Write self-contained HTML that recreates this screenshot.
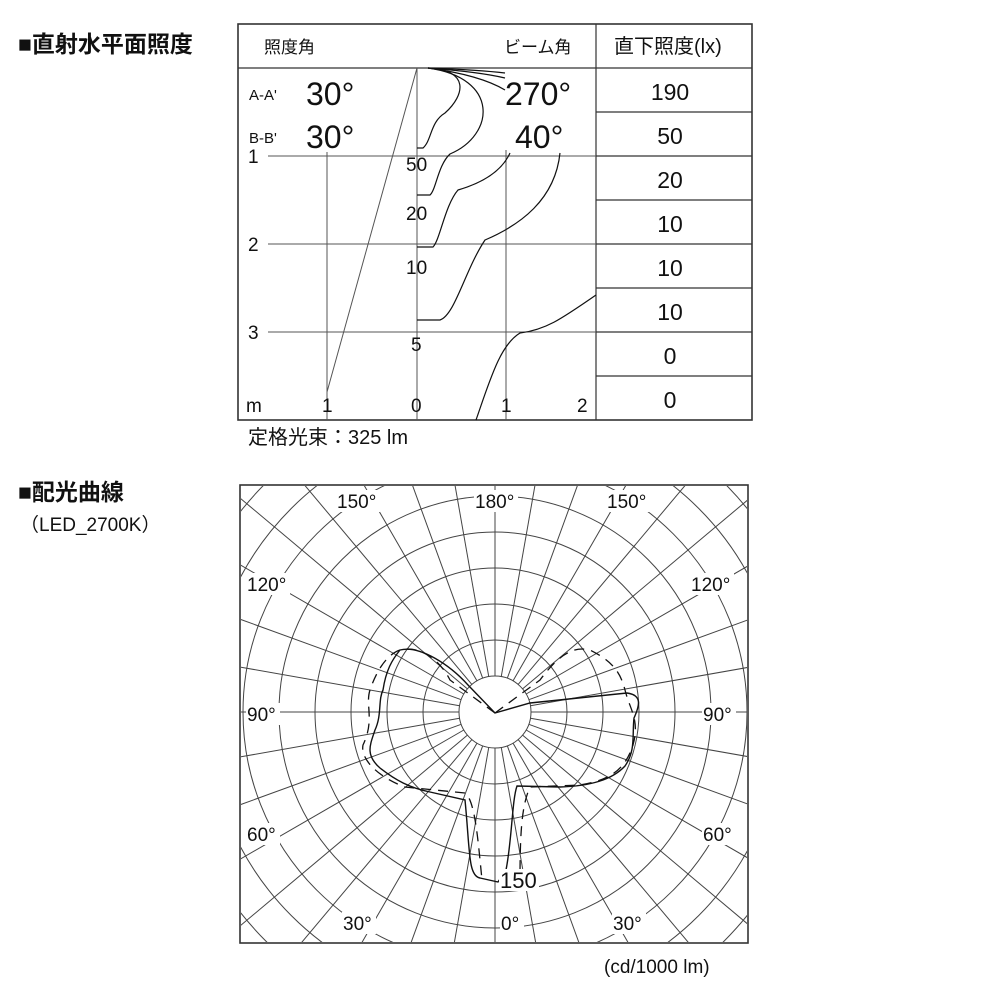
<!DOCTYPE html>
<html><head><meta charset="utf-8"><style>
html,body{margin:0;padding:0;background:#fff;width:1000px;height:1000px;overflow:hidden}
svg{display:block}
svg text{font-family:"Liberation Sans Narrow","Liberation Sans","Noto Sans CJK JP",sans-serif;fill:#111}
</style></head><body>
<svg width="1000" height="1000" viewBox="0 0 1000 1000" xmlns="http://www.w3.org/2000/svg">
<defs><clipPath id="pc"><rect x="241" y="486" width="506" height="456"/></clipPath></defs>
<text x="18" y="52" font-size="23" font-weight="bold">■直射水平面照度</text>
<g stroke="#333" stroke-width="1.2" fill="none">
<rect x="238" y="24" width="514" height="396" stroke-width="1.6"/>
<line x1="238" y1="68" x2="752" y2="68"/>
<line x1="596" y1="24" x2="596" y2="420"/>
<line x1="596" y1="112" x2="752" y2="112"/><line x1="596" y1="156" x2="752" y2="156"/>
<line x1="596" y1="200" x2="752" y2="200"/><line x1="596" y1="244" x2="752" y2="244"/>
<line x1="596" y1="288" x2="752" y2="288"/><line x1="596" y1="332" x2="752" y2="332"/>
<line x1="596" y1="376" x2="752" y2="376"/>
</g>
<g stroke="#555" stroke-width="1" fill="none">
<line x1="268" y1="156" x2="596" y2="156"/><line x1="268" y1="244" x2="596" y2="244"/><line x1="268" y1="332" x2="596" y2="332"/>
<line x1="327" y1="152" x2="327" y2="420"/><line x1="417" y1="68" x2="417" y2="420"/><line x1="506" y1="150" x2="506" y2="420"/>
<line x1="417" y1="68" x2="327" y2="392"/>
</g>
<g stroke="#111" stroke-width="1.2" fill="none">
<path d="M428 68 Q480 70 505 73"/><path d="M428 68 Q480 72 505 78"/><path d="M428 68 Q480 75 505 90"/>
<path d="M428 68 C470 70 465 95 445 113 C430 122 432 140 423 148 L417 148"/>
<path d="M428 68 C500 78 495 135 450 154 C438 165 436 190 430 195 L417 195"/>
<path d="M510 153 C500 175 475 185 458 190 C445 205 440 240 433 247 L417 247"/>
<path d="M560 153 C555 200 520 225 485 240 C465 270 455 315 440 320 L417 320"/>
<path d="M596 295 C560 320 545 330 520 333 C500 345 490 380 476 420"/>
</g>
<g font-size="17"><text x="264" y="53">照度角</text><text x="504" y="53">ビーム角</text><text x="614" y="53" font-size="20">直下照度(lx)</text></g>
<g font-size="15"><text x="249" y="100">A-A'</text><text x="249" y="143">B-B'</text></g>
<g font-size="32"><text x="306" y="105">30°</text><text x="306" y="148">30°</text><text x="505" y="105">270°</text><text x="515" y="148">40°</text></g>
<g font-size="23" text-anchor="middle"><text x="670" y="100">190</text><text x="670" y="144">50</text><text x="670" y="188">20</text><text x="670" y="232">10</text><text x="670" y="276">10</text><text x="670" y="320">10</text><text x="670" y="364">0</text><text x="670" y="408">0</text></g>
<g font-size="19"><text x="248" y="163">1</text><text x="248" y="251">2</text><text x="248" y="339">3</text>
<text x="406" y="171">50</text><text x="406" y="220">20</text><text x="406" y="274">10</text><text x="411" y="351">5</text>
<text x="246" y="412">m</text><text x="322" y="412">1</text><text x="411" y="412">0</text><text x="501" y="412">1</text><text x="577" y="412">2</text></g>
<text x="248" y="444" font-size="20">定格光束：325 lm</text>
<text x="18" y="500" font-size="23" font-weight="bold">■配光曲線</text>
<text x="20" y="531" font-size="19">（LED_2700K）</text>
<g clip-path="url(#pc)" stroke="#444" stroke-width="1" fill="none">
<circle cx="495" cy="712" r="36"/><circle cx="495" cy="712" r="72"/><circle cx="495" cy="712" r="108"/><circle cx="495" cy="712" r="144"/>
<circle cx="495" cy="712" r="180"/><circle cx="495" cy="712" r="216"/><circle cx="495" cy="712" r="252"/>
<circle cx="495" cy="712" r="288"/><circle cx="495" cy="712" r="324"/><circle cx="495" cy="712" r="360"/>
<circle cx="495" cy="712" r="396"/>
<g transform="translate(495 712)">
<line x1="36" y1="0" x2="600" y2="0" transform="rotate(0)"/><line x1="36" y1="0" x2="600" y2="0" transform="rotate(10)"/>
<line x1="36" y1="0" x2="600" y2="0" transform="rotate(20)"/><line x1="36" y1="0" x2="600" y2="0" transform="rotate(30)"/>
<line x1="36" y1="0" x2="600" y2="0" transform="rotate(40)"/><line x1="36" y1="0" x2="600" y2="0" transform="rotate(50)"/>
<line x1="36" y1="0" x2="600" y2="0" transform="rotate(60)"/><line x1="36" y1="0" x2="600" y2="0" transform="rotate(70)"/>
<line x1="36" y1="0" x2="600" y2="0" transform="rotate(80)"/><line x1="36" y1="0" x2="600" y2="0" transform="rotate(90)"/>
<line x1="36" y1="0" x2="600" y2="0" transform="rotate(100)"/><line x1="36" y1="0" x2="600" y2="0" transform="rotate(110)"/>
<line x1="36" y1="0" x2="600" y2="0" transform="rotate(120)"/><line x1="36" y1="0" x2="600" y2="0" transform="rotate(130)"/>
<line x1="36" y1="0" x2="600" y2="0" transform="rotate(140)"/><line x1="36" y1="0" x2="600" y2="0" transform="rotate(150)"/>
<line x1="36" y1="0" x2="600" y2="0" transform="rotate(160)"/><line x1="36" y1="0" x2="600" y2="0" transform="rotate(170)"/>
<line x1="36" y1="0" x2="600" y2="0" transform="rotate(180)"/><line x1="36" y1="0" x2="600" y2="0" transform="rotate(190)"/>
<line x1="36" y1="0" x2="600" y2="0" transform="rotate(200)"/><line x1="36" y1="0" x2="600" y2="0" transform="rotate(210)"/>
<line x1="36" y1="0" x2="600" y2="0" transform="rotate(220)"/><line x1="36" y1="0" x2="600" y2="0" transform="rotate(230)"/>
<line x1="36" y1="0" x2="600" y2="0" transform="rotate(240)"/><line x1="36" y1="0" x2="600" y2="0" transform="rotate(250)"/>
<line x1="36" y1="0" x2="600" y2="0" transform="rotate(260)"/><line x1="36" y1="0" x2="600" y2="0" transform="rotate(270)"/>
<line x1="36" y1="0" x2="600" y2="0" transform="rotate(280)"/><line x1="36" y1="0" x2="600" y2="0" transform="rotate(290)"/>
<line x1="36" y1="0" x2="600" y2="0" transform="rotate(300)"/><line x1="36" y1="0" x2="600" y2="0" transform="rotate(310)"/>
<line x1="36" y1="0" x2="600" y2="0" transform="rotate(320)"/><line x1="36" y1="0" x2="600" y2="0" transform="rotate(330)"/>
<line x1="36" y1="0" x2="600" y2="0" transform="rotate(340)"/><line x1="36" y1="0" x2="600" y2="0" transform="rotate(350)"/>
</g>
</g>
<rect x="240" y="485" width="508" height="458" fill="none" stroke="#333" stroke-width="1.6"/>
<g stroke="#111" stroke-width="1.4" fill="none">
<path d="M495 713 L530 703 L627 693 C642 695 640 705 634 718 C632 735 636 750 625 766 C612 780 590 786 560 787 L517 786 C512 800 512 840 506 870 L498 882 L480 878 C468 876 470 850 465 800 L430 792 C410 788 395 780 380 768 C365 755 370 745 375 730 C382 715 378 700 383 690 C386 670 392 660 400 650 C420 645 450 665 468 685 Z"/>
</g>
<g stroke="#111" stroke-width="1.3" fill="none" stroke-dasharray="10 7">
<path d="M495 713 L540 680 C555 660 570 645 590 650 C610 660 620 670 625 690 C630 710 640 720 633 745 C625 770 610 780 580 785 L530 787 C522 805 520 830 520 880"/>
<path d="M495 713 L450 680 C440 660 420 645 400 650 C385 655 375 675 370 690 C365 705 375 720 363 745 C360 760 380 778 405 787 L465 793 C475 800 478 840 482 880"/>
</g>
<g font-size="19">
<rect x="336" y="490" width="44" height="22" fill="#fff"/><text x="337" y="508">150°</text>
<rect x="474" y="490" width="44" height="22" fill="#fff"/><text x="475" y="508">180°</text>
<rect x="606" y="490" width="44" height="22" fill="#fff"/><text x="607" y="508">150°</text>
<rect x="246" y="573" width="44" height="22" fill="#fff"/><text x="247" y="591">120°</text>
<rect x="690" y="573" width="44" height="22" fill="#fff"/><text x="691" y="591">120°</text>
<rect x="246" y="703" width="34" height="22" fill="#fff"/><text x="247" y="721">90°</text>
<rect x="702" y="703" width="34" height="22" fill="#fff"/><text x="703" y="721">90°</text>
<rect x="246" y="823" width="34" height="22" fill="#fff"/><text x="247" y="841">60°</text>
<rect x="702" y="823" width="34" height="22" fill="#fff"/><text x="703" y="841">60°</text>
<rect x="342" y="912" width="34" height="22" fill="#fff"/><text x="343" y="930">30°</text>
<rect x="612" y="912" width="34" height="22" fill="#fff"/><text x="613" y="930">30°</text>
<rect x="500" y="912" width="24" height="22" fill="#fff"/><text x="501" y="930">0°</text>
<rect x="499" y="869" width="40" height="22" fill="#fff"/><text x="500" y="888" font-size="22">150</text>
</g>
<text x="604" y="973" font-size="19">(cd/1000 lm)</text>
</svg>
</body></html>
